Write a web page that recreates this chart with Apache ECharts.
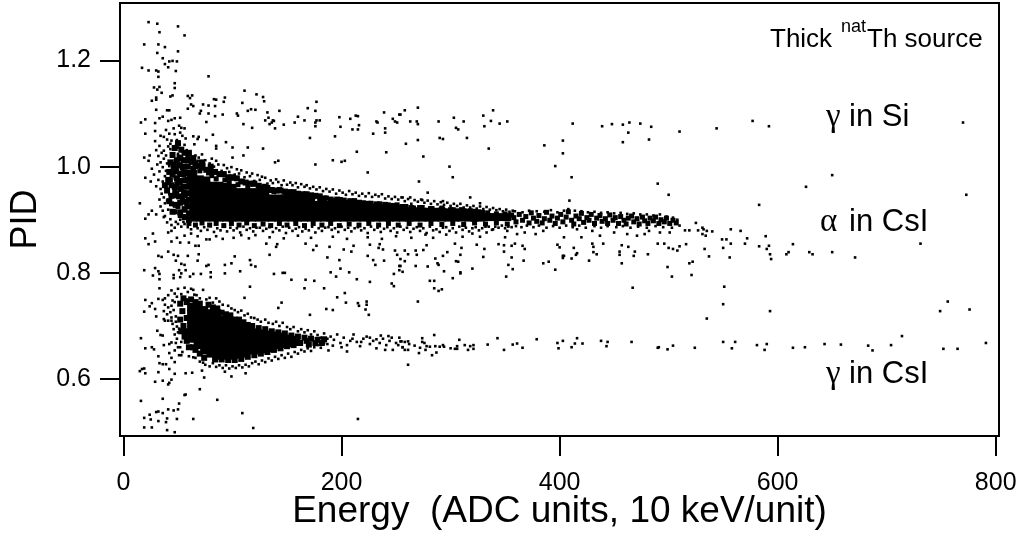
<!DOCTYPE html>
<html>
<head>
<meta charset="utf-8">
<script src="https://cdn.jsdelivr.net/npm/echarts@6/dist/echarts.min.js"></script>
<style>
  html, body { margin: 0; padding: 0; background: #fff; }
  #chart { width: 1018px; height: 535px; }
</style>
</head>
<body>
<div id="chart"></div>
<script>
// tick labels
const xTicks = [0, 200, 400, 600, 800];
const yTicks = [0.6, 0.8, 1.0, 1.2];

// the solid black part of the alpha band, read column by column
const alphaCore = [
[64,.904],[64,.916],[64,.928],[64,.94],[64,.952],[64,.964],[64,.976],[64,.986],
[70,.904],[70,.916],[70,.928],[70,.94],[70,.952],[70,.964],[70,.976],
[76,.904],[76,.916],[76,.928],[76,.94],[76,.952],[76,.964],[76,.974],
[82,.904],[82,.916],[82,.928],[82,.94],[82,.952],[82,.964],
[88,.904],[88,.916],[88,.928],[88,.94],[88,.952],[88,.964],
[94,.904],[94,.916],[94,.928],[94,.94],[94,.952],[94,.962],
[100,.904],[100,.916],[100,.928],[100,.94],[100,.952],[100,.96],
[106,.904],[106,.916],[106,.928],[106,.94],[106,.952],
[112,.904],[112,.916],[112,.928],[112,.94],[112,.952],
[118,.904],[118,.916],[118,.928],[118,.94],[118,.952],
[124,.904],[124,.916],[124,.928],[124,.94],[124,.95],
[130,.904],[130,.916],[130,.928],[130,.94],[130,.948],
[136,.904],[136,.916],[136,.928],[136,.94],
[142,.904],[142,.916],[142,.928],[142,.94],
[148,.904],[148,.916],[148,.928],[148,.94],
[154,.904],[154,.916],[154,.928],[154,.94],
[160,.904],[160,.916],[160,.928],[160,.938],
[166,.904],[166,.916],[166,.928],[166,.937],
[172,.904],[172,.916],[172,.928],[172,.936],
[178,.904],[178,.916],[178,.928],[184,.904],[184,.916],[184,.928],
[190,.904],[190,.916],[190,.928],[196,.904],[196,.916],[196,.928],
[202,.904],[202,.916],[202,.927],[208,.904],[208,.916],[208,.926],
[214,.904],[214,.916],[214,.925],[220,.904],[220,.916],[220,.924],
[226,.904],[226,.916],[226,.923],[232,.904],[232,.916],[232,.922],
[238,.904],[238,.916],[238,.921],[244,.904],[244,.916],[244,.92],
[250,.904],[250,.916],[250,.92],[256,.904],[256,.916],
[262,.904],[262,.916],[268,.904],[268,.916],[274,.904],[274,.915],
[280,.904],[280,.915],[286,.904],[286,.915],[292,.904],[292,.915],
[298,.904],[298,.914],[304,.904],[304,.914],[310,.904],[310,.913],
[316,.904],[316,.913],[322,.904],[322,.912],[328,.904],[328,.911],
[334,.905],[340,.905],[346,.905],[352,.905]
];

// the solid black part of the gamma blob
const gammaCore = [
[62,.676],[62,.688],[62,.7],[62,.712],[62,.724],[62,.736],
[68,.664],[68,.676],[68,.688],[68,.7],[68,.712],[68,.724],[68,.736],
[74,.654],[74,.664],[74,.676],[74,.688],[74,.7],[74,.712],[74,.724],[74,.73],
[80,.648],[80,.652],[80,.664],[80,.676],[80,.688],[80,.7],[80,.712],[80,.724],
[86,.644],[86,.652],[86,.664],[86,.676],[86,.688],[86,.7],[86,.712],[86,.724],
[92,.644],[92,.652],[92,.664],[92,.676],[92,.688],[92,.7],[92,.712],
[98,.644],[98,.652],[98,.664],[98,.676],[98,.688],[98,.7],[98,.71],
[104,.646],[104,.652],[104,.664],[104,.676],[104,.688],[104,.7],
[110,.648],[110,.652],[110,.664],[110,.676],[110,.688],[110,.698],
[116,.654],[116,.664],[116,.676],[116,.688],[116,.694],
[122,.654],[122,.664],[122,.676],[122,.688],
[128,.656],[128,.664],[128,.676],[128,.686],
[134,.658],[134,.664],[134,.676],[134,.684],
[140,.664],[140,.676],[140,.682],[146,.666],[146,.676],[146,.68],
[152,.668],[152,.676],[158,.67],[158,.674]
];

// larger clumps filling the dark left side of the alpha band and its upper rim
const leftMass = [
[44,.945],[44,.965],[45,.985],[46,1],[48,.928],[48,.948],[47,.962],[49,.978],[48,.994],[49,1.012],
[52,.914],[52,.932],[51,.944],[52,.958],[51,.973],[52,.986],[51,1.002],[52,1.016],[53,1.032],
[56,.905],[56,.92],[55,.934],[56,.946],[55,.962],[56,.974],[55,.988],[56,1],[55,1.012],[56,1.026],
[60,.9],[60,.912],[59,.925],[60,.938],[59,.95],[60,.962],[59,.975],[60,.988],[59,1],[60,1.012],[60,1.026],
[40,.955],[41,.975],[42,.99],[43,1.008],[45,1.022],[47,1.035],[50,1.044],[42,.935],[45,.915],[38,.965],
[64,.996],[66,1.006],[64,1.016],[68,1.002],[72,.998],[72,1.008],[76,.994],[80,.99],[80,1],[84,.99],
[88,.986],[92,.986],[96,.98],[100,.98],[104,.978],[108,.972],[112,.97],[116,.968],[120,.968],[124,.964],
[128,.96],[132,.96],[136,.956],[140,.955],[144,.955],[148,.953],[152,.952],[156,.952],[160,.949],[164,.948],
[168,.948],[172,.946],[176,.945],[180,.944],[184,.94],[190,.938],[196,.938],[202,.936],[208,.935],[216,.932],
[224,.93],[232,.929],[240,.928],[248,.926],[256,.924],[264,.922],[272,.922],[282,.92],[292,.919],[302,.918],
[312,.916],[322,.915]
];

// middle-sized clumps along the rim of the alpha band and in its thin end
const alphaRim = [
[44,.93],[47,.955],[43,.975],[49,.99],[46,1.005],[51,1.018],[48,.945],[52,.97],[50,.925],[54,.94],
[53,.96],[55,.985],[52,1.003],[56,1.012],[58,1],[47,.915],[52,.908],[56,.918],[55,.952],[49,.968],
[45,.99],[57,.975],[54,.998],[59,1.018],[62,1.008],[58,.93],[58,.905],[59,.95],[60,.965],[60,.985],
[66,1],[70,.992],[73,1.003],[78,.988],[81,.983],[85,.977],[88,.985],[93,.975],[97,.97],[101,.978],
[105,.966],[109,.972],[114,.963],[119,.967],[124,.96],[129,.963],[133,.955],[138,.953],[143,.957],[149,.95],
[155,.95],[161,.947],[167,.948],[174,.943],[180,.937],[186,.941],[192,.936],[199,.938],[205,.933],[212,.936],
[220,.932],[227,.931],[235,.93],[243,.928],[251,.928],[259,.925],[266,.922],[274,.923],[283,.921],[292,.922],
[300,.919],[310,.919],[318,.917],[326,.915],[334,.913],[342,.911],[350,.911],[356,.909],
[60,.893],[66,.89],[72,.894],[79,.89],[85,.893],[92,.889],[99,.893],[106,.89],[113,.894],[120,.889],
[128,.892],[135,.889],[143,.893],[150,.89],[158,.893],[166,.889],[174,.893],[182,.89],[190,.893],[198,.889],
[207,.892],[216,.89],[225,.893],[234,.89],[243,.893],[252,.89],[262,.893],[272,.89],[282,.893],[292,.891],
[302,.893],[312,.891],[322,.894],[332,.892],[342,.894],[352,.892],
[358,.904],[360,.896],[363,.91],[366,.899],[369,.906],[372,.894],[374,.913],[376,.903],[379,.897],[381,.908],
[384,.894],[386,.902],[388,.914],[391,.899],[393,.907],[396,.893],[398,.903],[401,.91],[403,.896],[406,.905],
[408,.915],[411,.899],[413,.892],[415,.907],[418,.902],[420,.912],[422,.895],[425,.904],[427,.899],[429,.91],
[432,.893],[434,.903],[437,.908],[439,.897],[442,.902],[444,.893],[446,.909],[449,.899],[451,.904],[454,.893],
[456,.906],[459,.899],[461,.892],[463,.903],[466,.907],[468,.896],[471,.902],[473,.892],[476,.905],[478,.898],
[481,.893],[483,.903],[486,.898],[488,.905],[491,.893],[493,.9],[496,.896],[498,.903],[501,.893],[504,.899],[507,.894]
];

// middle-sized clumps along the rim of the gamma blob
const gammaRim = [
[52,.742],[54,.728],[52,.712],[55,.7],[53,.69],[56,.68],[55,.752],[58,.745],[58,.715],[57,.69],
[58,.672],[60,.66],[62,.75],[64,.66],[66,.745],[70,.742],[66,.655],[70,.648],[74,.64],[78,.74],
[82,.735],[86,.733],[90,.725],[94,.722],[98,.72],[102,.712],[106,.712],[110,.707],[114,.702],[118,.7],
[124,.696],[130,.694],[136,.69],[142,.688],[148,.686],[154,.682],[160,.68],[166,.678],[172,.676],[178,.674],
[184,.675],[170,.665],[176,.668],[182,.668],[84,.637],[90,.637],[96,.636],[102,.636],[108,.638],[114,.642],
[120,.645],[126,.648],[132,.651],[138,.655],[144,.658],[150,.662],[156,.664],[162,.668],[168,.672]
];

// scattered dots above the alpha band
const gammaSi = [
[23,1.272],[31,1.269],[50,1.264],[33,1.253],[56,1.247],[19,1.23],[32,1.23],[38,1.225],[50,1.217],[31,1.214],
[36,1.204],[42,1.198],[45,1.199],[49,1.198],[38,1.193],[41,1.187],[17,1.186],[23,1.181],[30,1.181],[32,1.179],
[48,1.18],[32,1.169],[78,1.17],[47,1.157],[28,1.149],[33,1.15],[47,1.148],[31,1.145],[35,1.139],[111,1.143],
[122,1.136],[128,1.131],[129,1.123],[59,1.133],[63,1.134],[61,1.129],[45,1.134],[43,1.132],[30,1.13],[30,1.126],
[26,1.124],[83,1.127],[85,1.126],[93,1.13],[92,1.122],[109,1.12],[177,1.122],[73,1.117],[78,1.115],[84,1.114],
[62,1.117],[64,1.114],[59,1.109],[169,1.11],[117,1.108],[121,1.107],[114,1.105],[143,1.105],[176,1.105],[30,1.107],
[40,1.106],[42,1.106],[71,1.105],[70,1.1],[78,1.1],[91,1.098],[84,1.095],[104,1.1],[105,1.096],[132,1.102],
[239,1.102],[253,1.098],[160,1.094],[198,1.093],[213,1.096],[215,1.095],[208,1.09],[51,1.077],[53,1.073],[56,1.072],
[29,1.082],[29,1.067],[16,1.083],[20,1.089],[36,1.094],[33,1.091],[47,1.091],[52,1.092],[41,1.086],[44,1.088],
[133,1.092],[130,1.087],[137,1.087],[136,1.083],[138,1.086],[134,1.08],[147,1.079],[157,1.083],[166,1.087],[177,1.087],
[180,1.087],[176,1.083],[176,1.076],[232,1.085],[233,1.083],[247,1.09],[249,1.085],[251,1.083],[76,1.084],[110,1.08],
[118,1.073],[139,1.072],[199,1.075],[216,1.078],[215,1.07],[210,1.07],[240,1.072],[240,1.064],[229,1.062],[20,1.062],
[82,1.06],[64,1.057],[69,1.056],[68,1.052],[194,1.057],[171,1.054],[76,1.05],[94,1.046],[65,1.042],[85,1.039],
[85,1.034],[100,1.036],[114,1.036],[128,1.034],[214,1.028],[241,1.027],[110,1.021],[100,1.017],[24,1.021],[19,1.017],
[23,1.011],[142,1.011],[139,1.008],[192,1.012],[200,1.009],[203,1.011],[176,1.004],[26,.996],[224,.989],[20,.979],
[25,.972],[15,.931],[20,.902],[23,.91],[26,.917],[30,.91],[37,.905],
[258,1.106],[270,1.111],[254,1.098],[263,1.085],[269,1.085],[270,1.08],[289,1.085],[303,1.092],[312,1.085],[305,1.073],
[307,1.07],[330,1.096],[339,1.106],[337,1.086],[331,1.076],[345,1.081],[352,1.085],[412,1.081],[439,1.076],[448,1.08],
[458,1.079],[464,1.083],[474,1.081],[484,1.075],[510,1.066],[463,1.064],[458,1.046],[482,1.051],[403,1.049],[386,1.04],
[403,1.025],[396,1.001],[411,.98],[490,.968],[500,.947],[409,.936],[270,1.05],[259,1.043],[290,1.054],[293,1.052],
[315,1.054],[335,1.034],[275,1.019],[299,1],[302,.98],[271,.972],[279,.951],[318,.942],[327,.931],[256,.942],
[263,.942],[274,.937],[293,.935],
[544,1.072],[577,1.086],[592,1.076],[770,1.083],[650,.984],[626,.962],[773,.947],[583,.928]
];

// the speckled cone and top edge of the alpha band
const alphaEdge = [
[29,1.048],[33,1.039],[37,1.056],[40,1.051],[43,1.043],[47,1.061],[52,1.064],[57,1.053],[34,1.058],[39,1.069],
[42,1.062],[46,1.072],[49,1.05],[54,1.058],[37,1.03],[41,1.038],[44,1.049],[48,1.039],[51,1.047],[56,1.041],
[32,1.02],[35,1.026],[39,1.021],[43,1.033],[46,1.025],[50,1.036],[53,1.029],[58,1.031],[61,1.022],[34,1.008],
[37,1.015],[40,1.006],[44,1.019],[47,1.012],[50,1.024],[54,1.016],[65,1.019],[68,1.011],[36,.999],[39,.992],
[42,1.001],[33,.991],[38,.982],[41,.968],[44,.985],[47,.978],[50,.951],[36,.972],[34,.958],[39,.953],
[42,.948],[45,.962],[37,.942],[40,.936],[43,.941],[46,.927],[38,.931],[41,.919],[44,.916],[35,.949],
[33,.938],[34,.925],[36,.917],[38,.907],[43,.901],[48,.896],[52,.9],[55,.896],[30,.963],[28,.985],
[32,.975],[31,1.004],[30,1.031],
[66,1.021],[69,1.017],[72,1.023],[75,1.012],[79,1.006],[81,1.015],[83,1],[85,1.011],[87,1.004],[90,.992],
[92,1.003],[95,.997],[97,.99],[99,.999],[102,.985],[104,.995],[106,.987],[108,.993],[111,.98],[113,.989],
[116,.982],[118,.987],[120,.973],[123,.984],[125,.975],[127,.981],[130,.979],[132,.968],[135,.974],[137,.969],
[140,.976],[142,.971],[145,.965],[147,.974],[150,.966],[153,.97],[155,.965],[158,.969],[160,.961],[163,.967],
[166,.962],[168,.965],[171,.959],[174,.962],[177,.957],[180,.961],[183,.954],[186,.958],[189,.953],[192,.957],
[195,.949],[198,.955],[201,.951],[204,.947],[207,.954],[210,.948],[213,.951],[216,.945],[219,.949],[222,.944],
[225,.95],[228,.943],[231,.947],[234,.944],[237,.948],[240,.94],[243,.944],[246,.939],[249,.943],[252,.938],
[255,.942],[258,.935],[261,.939],[264,.93],[267,.937],[270,.934],[273,.938],[276,.932],[279,.936],[282,.93],
[285,.935],[288,.929],[291,.933],[294,.928],[297,.932],[300,.926],[303,.93],[306,.926],[309,.93],[312,.923],
[315,.927],[318,.923],[321,.926],[324,.921],[327,.925],[330,.92],[333,.924],[336,.919],[339,.922],[342,.918],
[345,.92],[348,.916],[351,.919],[354,.915],[357,.917]
];

// the loose dots just under the alpha band
const alphaLower = [
[40,.895],[44,.89],[47,.885],[50,.892],[53,.887],[56,.892],[59,.886],[62,.882],[65,.889],[68,.884],
[71,.879],[74,.886],[77,.881],[80,.888],[83,.877],[86,.884],[89,.88],[92,.887],[95,.878],[98,.885],
[101,.88],[104,.884],[107,.876],[110,.887],[113,.881],[116,.884],[119,.878],[122,.885],[125,.885],[128,.879],
[131,.883],[134,.886],[137,.877],[140,.884],[143,.88],[146,.887],[149,.875],[152,.885],[155,.879],[158,.883],
[161,.886],[164,.878],[167,.883],[170,.88],[173,.887],[176,.876],[179,.884],[182,.879],[185,.885],[188,.886],
[191,.881],[194,.884],[197,.877],[200,.887],[203,.881],[206,.885],[209,.878],[212,.884],[215,.886],[218,.88],
[221,.884],[224,.875],[227,.887],[230,.881],[233,.885],[236,.877],[239,.883],[242,.886],[245,.879],[248,.884],
[251,.876],[254,.887],[257,.881],[260,.885],[263,.877],[266,.883],[269,.886],[272,.879],[275,.884],[278,.875],
[281,.887],[284,.88],[287,.882],[290,.877],[293,.885],[296,.886],[299,.879],[302,.884],[305,.876],[308,.887],
[311,.881],[314,.885],[317,.878],[320,.884],[323,.886],[326,.88],[329,.884],[332,.887],[335,.887],[338,.881],
[341,.887],[344,.885],[347,.889],[350,.884],[353,.887],[356,.886],
[27,.874],[20,.865],[41,.876],[44,.879],[49,.866],[56,.87],[76,.863],[79,.863],[101,.866],[115,.865],
[62,.874],[68,.869],[85,.869],[91,.864],[108,.871],[121,.871],[134,.867],[147,.865],[160,.87],[172,.866],
[192,.868],[205,.864],[224,.867],[237,.864],[250,.869],[333,.876],[339,.882],[352,.879],[350,.867],[361,.873],
[368,.876],[378,.873],[385,.879],[404,.867],[416,.882],[420,.867],[430,.879],[437,.87],[450,.876],[462,.873],
[471,.87],[478,.873],[482,.879],[492,.876],[501,.876],[515,.88],[519,.88],[525,.894],[527,.88],[264,.866],
[277,.872],[284,.866],[296,.872],[311,.868],[320,.874],[327,.868],
[360,.888],[365,.886],[370,.889],[376,.886],[381,.889],[388,.885],[394,.888],[400,.885],[406,.889],[412,.886],
[418,.889],[424,.885],[432,.888],[438,.885],[444,.888],[452,.886],[458,.888],[465,.885],[472,.887],[480,.885],
[488,.888],[495,.886],[503,.885],[510,.889],
[359,.916],[366,.914],[372,.917],[379,.916],[386,.915],[392,.918],[398,.914],[404,.917],[408,.92],[414,.917],
[420,.916],[426,.914],[432,.915],[438,.913],[444,.914],[450,.912],[456,.913],[462,.911],[468,.912],[474,.91],
[480,.91],[486,.908],[492,.91],[498,.906],[504,.904],[508,.9]
];

// the open area between the two bands
const midScatter = [
[532,.882],[540,.878],[535,.879],[549,.863],[553,.863],[531,.873],[534,.87],[531,.885],[557,.882],[566,.879],
[572,.865],[589,.869],
[533,.845],[537,.831],[550,.847],[556,.829],[557,.855],[570,.855],[583,.85],[592,.851],[590,.845],[593,.835],
[594,.826],[608,.835],[610,.839],[614,.854],[629,.839],[632,.835],[650,.839],[671,.829],[731,.855],
[551,.774],[550,.741],[535,.714],[593,.728],[756,.746],[749,.728],[776,.731],
[270,.746],[258,.842],[261,.835],[268,.842],[269,.834],[275,.843],[278,.852],[258,.822],[254,.826],[268,.813],
[279,.812],[254,.813],[256,.802],[286,.827],[293,.832],[297,.839],[288,.818],[289,.815],[294,.803],[281,.785],
[285,.785],[285,.771],[289,.766],[292,.769],[302,.79],[309,.801],[309,.799],[305,.822],[307,.821],[309,.834],
[310,.847],[304,.855],[324,.853],[331,.845],[330,.83],[320,.808],[344,.854],[349,.852],[349,.84],[356,.829],
[353,.815],[357,.807],[351,.793],[367,.823],[368,.845],[366,.851],[359,.855],[356,.851],[385,.818],[390,.821],
[396,.806],[398,.853],[400,.848],[413,.847],[403,.832],[404,.832],[403,.828],[411,.827],[415,.834],[416,.837],
[427,.823],[431,.849],[430,.855],[431,.839],[434,.835],[440,.855],[457,.852],[463,.849],[455,.84],[455,.834],
[469,.84],[468,.832],[457,.818],[481,.835],[467,.772],[490,.855],[496,.855],[500,.847],[504,.845],[508,.842],
[510,.85],[516,.854],[499,.811],[503,.793],[519,.818],[522,.821],[521,.796],
[23,.854],[29,.859],[44,.859],[52,.857],[60,.857],[66,.851],[69,.851],[32,.832],[35,.83],[41,.84],
[46,.834],[50,.832],[48,.823],[59,.832],[68,.823],[69,.835],[53,.817],[56,.815],[51,.805],[57,.805],
[19,.805],[29,.809],[32,.803],[27,.795],[33,.798],[33,.788],[46,.796],[46,.79],[53,.799],[52,.792],
[64,.798],[71,.798],[61,.793],[80,.801],[80,.792],[76,.813],[78,.815],[93,.815],[93,.799],[99,.818],
[102,.831],[107,.803],[116,.824],[117,.815],[121,.812],[134,.834],[138,.798],[146,.8],[148,.8],[154,.787],
[167,.787],[166,.771],[175,.785],[184,.771],[190,.801],[195,.793],[187,.829],[198,.824],[199,.808],[207,.801],
[214,.788],[226,.783],[224,.832],[229,.824],[231,.815],[239,.823],[234,.847],[238,.844],[249,.842],[251,.834],
[248,.798],[246,.78],[248,.775],[253,.813],[253,.805],[131,.855],[140,.849],[141,.854],[174,.843],[177,.851],
[189,.849],[202,.844],[209,.84],[211,.851],[226,.853],[235,.854],[167,.855],
[116,.774],[111,.753],[145,.744],[142,.734],[186,.732],[192,.73],[171,.721],[203,.762],[196,.754],[204,.744],
[215,.743],[216,.738],[223,.746],[223,.74],[222,.731],[225,.721],
[33,.771],[20,.749],[32,.751],[36,.749],[26,.743],[24,.737],[19,.727],[29,.732],[30,.718]
];

// the speckled rim of the gamma blob
const gammaEdge = [
[38,.752],[41,.758],[44,.767],[47,.761],[50,.77],[53,.76],[56,.772],[59,.764],[62,.77],[65,.759],
[45,.748],[49,.755],[52,.744],[58,.75],[64,.768],[67,.758],[70,.752],[73,.768],[76,.75],[79,.753],
[82,.744],[85,.752],[88,.746],[91,.74],[96,.738],[99,.733],[102,.73],[105,.726],[108,.729],[111,.72],
[114,.723],[117,.716],[120,.715],[123,.712],[126,.708],[130,.712],[133,.706],[137,.704],[140,.708],[143,.7],
[146,.706],[150,.698],[153,.694],[156,.698],[160,.69],[163,.694],[166,.688],[169,.692],[172,.684],[175,.69],
[178,.683],[181,.678],[184,.686],[187,.676],
[38,.74],[41,.735],[44,.738],[47,.745],[37,.728],[40,.722],[43,.726],[46,.73],[48,.718],[44,.716],
[45,.704],[48,.708],[51,.695],[46,.694],[49,.699],[47,.684],[50,.688],[53,.67],[49,.676],[48,.668],
[52,.66],[50,.66],[54,.651],[53,.645],[51,.645],[60,.643],[64,.641],[66,.64],[70,.633],[73,.631],
[75,.627],[79,.624],[82,.63],[85,.623],[88,.626],[91,.621],[94,.626],[97,.62],[100,.624],[103,.621],
[106,.626],[109,.622],[112,.627],[115,.624],[118,.63],[121,.633],[124,.628],[127,.635],[130,.632],[133,.639],
[136,.635],[139,.642],[142,.638],[145,.645],[148,.64],[151,.648],[154,.642],[157,.651],[160,.648],[163,.655],
[166,.652],[169,.658],[172,.653],[175,.66],[178,.664],[181,.659],[184,.668],[187,.666]
];

// gamma events running out along the flat line
const gammaLine = [
[190,.68],[193,.674],[196,.684],[199,.668],[202,.678],[205,.664],[208,.672],[211,.684],[214,.67],[217,.662],
[220,.676],[223,.68],[226,.666],[229,.672],[232,.658],[235,.668],[238,.676],[241,.664],[244,.672],[247,.655],
[250,.668],[253,.678],[256,.66],[258,.67],[254,.671],[246,.678],[243,.681],[236,.682],[226,.678],[210,.676],
[200,.66],[192,.663],[188,.654],[205,.652],[218,.67],[232,.675],[240,.655],[252,.664],
[255,.671],[256,.66],[258,.655],[261,.671],[262,.666],[261,.655],[267,.663],[261,.627],[271,.649],[272,.659],
[274,.677],[274,.67],[276,.668],[277,.655],[278,.662],[281,.661],[283,.645],[285,.683],[286,.662],[287,.65],
[290,.661],[293,.664],[294,.661],[300,.658],[304,.657],[306,.662],[306,.657],[308,.674],[313,.664],[316,.655],
[318,.662],[321,.664],[321,.657],[334,.665],[343,.677],[349,.655],[357,.665],[361,.667],[366,.659],[379,.675],
[398,.668],[399,.658],[403,.672],[411,.66],[414,.667],[416,.677],[421,.667],[438,.672],[444,.67],[443,.662],
[466,.67],[490,.659],[491,.66],[499,.656],[504,.663],[524,.659],
[550,.67],[558,.658],[561,.67],[581,.664],[588,.655],[590,.666],[614,.659],[625,.66],[643,.666],[658,.665],
[683,.663],[687,.654],[704,.664],[714,.681],[752,.657],[765,.657],[791,.668]
];

// the sparse low corner under the gamma blob
const lowScatter = [
[16,.677],[20,.658],[26,.66],[28,.656],[32,.643],[37,.664],[31,.691],[34,.683],[36,.682],[38,.71],
[37,.713],[41,.71],[44,.71],[42,.666],[42,.649],[44,.669],[44,.64],[47,.654],[33,.63],[36,.628],
[39,.628],[42,.619],[47,.632],[47,.61],[57,.611],[63,.612],[72,.616],[74,.603],[17,.619],[15,.615],
[19,.62],[20,.611],[32,.613],[29,.595],[36,.597],[41,.59],[42,.593],[44,.599],[70,.581],[93,.614],
[99,.605],[112,.611],[57,.571],[56,.57],[36,.563],[16,.559],[86,.561],[51,.554],[50,.543],[46,.541],
[41,.543],[36,.536],[32,.539],[30,.538],[109,.536],[19,.527],[24,.533],[25,.524],[32,.521],[40,.526],
[39,.519],[49,.525],[64,.525],[215,.525],[19,.509],[26,.509],[40,.504],[47,.5],[119,.508]
];

const coreGroups = [
  { data: alphaCore, size: 8 },
  { data: gammaCore, size: 8 },
  { data: leftMass, size: 6 },
  { data: alphaRim, size: 5 },
  { data: gammaRim, size: 6 },
];
const dotGroups = [gammaSi, alphaEdge, alphaLower, midScatter, gammaEdge, gammaLine, lowScatter];

const chart = echarts.init(document.getElementById('chart'));

const series = [];
coreGroups.forEach(g => {
  series.push({ type: 'scatter', data: g.data, symbol: 'rect', symbolSize: g.size,
    itemStyle: { color: '#000', opacity: 1 }, silent: true });
});
dotGroups.forEach(d => {
  series.push({ type: 'scatter', data: d, symbol: 'rect', symbolSize: 2.6,
    itemStyle: { color: '#000', opacity: 1 }, silent: true });
});

const FONT = '"Liberation Sans", Arial, sans-serif';
const SERIF = '"Liberation Serif", serif';

function annot(x, y, text, size, family) {
  return { type: 'text', left: x, top: y, silent: true,
    style: { text: text, fill: '#000', font: size + 'px ' + (family || FONT) } };
}

chart.setOption({
  animation: false,
  backgroundColor: '#fff',
  grid: { left: 120, right: 19, top: 3, bottom: 99, show: true, borderColor: '#000', borderWidth: 2,
    outerBoundsMode: 'none' },
  xAxis: {
    type: 'value', min: -3.2, max: 803, splitLine: { show: false },
    name: 'Energy  (ADC units, 10 keV/unit)', nameLocation: 'middle', nameGap: 57, nameMoveOverlap: false,
    nameTextStyle: { fontFamily: FONT, fontSize: 37, color: '#000' },
    axisLine: { show: true, onZero: false, lineStyle: { color: '#000', width: 2 } },
    axisTick: { show: true, length: 20, lineStyle: { color: '#000', width: 2 }, customValues: xTicks },
    axisLabel: { color: '#000', fontFamily: FONT, fontSize: 25, margin: 35, customValues: xTicks }
  },
  yAxis: {
    type: 'value', min: 0.4929, max: 1.308, splitLine: { show: false },
    name: 'PID', nameLocation: 'middle', nameGap: 76, nameMoveOverlap: false,
    nameTextStyle: { fontFamily: FONT, fontSize: 36, color: '#000' },
    axisLine: { show: true, onZero: false, lineStyle: { color: '#000', width: 2 } },
    axisTick: { show: true, length: 20, lineStyle: { color: '#000', width: 2 }, customValues: yTicks },
    axisLabel: { color: '#000', fontFamily: FONT, fontSize: 25, margin: 29, customValues: yTicks,
      formatter: v => v.toFixed(1) }
  },
  graphic: [
    annot(770, 27, 'Thick', 26),
    annot(841, 18, 'nat', 18),
    annot(867, 27, 'Th source', 26),
    annot(826, 101, 'γ', 33, SERIF),
    annot(849, 102, 'in Si', 31),
    annot(820, 206, 'α', 33, SERIF),
    annot(849, 207, 'in CsI', 31),
    annot(826, 358, 'γ', 33, SERIF),
    annot(849, 359, 'in CsI', 31)
  ],
  series: series
});
</script>
</body>
</html>
